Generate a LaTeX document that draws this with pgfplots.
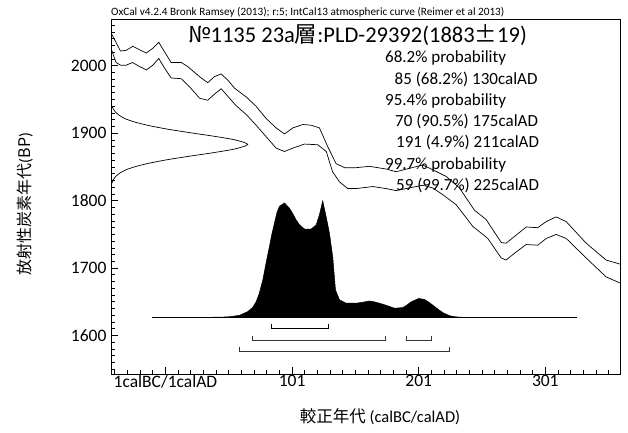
\documentclass[border=0pt]{standalone}
\usepackage{pgfplots}
\pgfplotsset{compat=1.18}
\usepackage{fontspec}
\setmainfont{Carlito}
\newfontfamily\cjk{Noto Sans CJK JP}
\begin{document}
\begin{tikzpicture}[x=1pt,y=1pt]
\useasboundingbox (0,0) rectangle (628,432);
\begin{axis}[
  at={(111pt,58pt)}, anchor=south west,
  scale only axis, width=509pt, height=354pt,
  xmin=-42, xmax=360, ymin=1543, ymax=2068,
  xtick={1,101,201,301},
  xticklabels={1calBC/1calAD,101,201,301},
  ytick={1600,1700,1800,1900,2000},
  minor xtick={-39,-29,...,359},
  minor ytick={1550,1560,...,2060},
  tick align=inside,
  xtick pos=lower, ytick pos=left,
  major tick length=7pt, minor tick length=4pt,
  tick style={black, line width=0.8pt},
  axis line style={line width=1pt},
  /pgf/number format/assume math mode=true,
  /pgf/number format/1000 sep={},
  ticklabel style={font=\fontsize{17.5}{18}\selectfont},
  xticklabel style={yshift=2pt},
  yticklabel style={xshift=-1pt},
]
% calibration curve (upper)
\addplot[black, line width=0.7pt] coordinates {
(-42,2049) (-34.5,2022) (-30,2023) (-24.8,2029) (-19.5,2024) (-14.2,2019) (-9,2026) (-4.3,2035) (0.2,2021) (5.5,2005) (13.4,2005) (18.6,1999) (27.9,1984) (34.4,1975) (39.7,1984) (45,1988) (50.2,1979) (55.5,1967) (64.7,1954) (72.6,1940) (80.5,1922) (88.4,1908) (95,1899) (101.6,1908) (109.5,1913) (116,1912) (122.6,1908) (129.2,1880) (135.8,1855) (142.4,1849) (151.6,1849) (162,1851) (175.3,1847) (183.2,1843) (193.7,1848) (204.2,1853) (210.9,1847) (222.7,1836) (233.2,1819) (245,1786) (254.3,1772) (266.2,1738) (270,1737) (278,1749) (285.9,1761) (295,1760) (301.7,1769) (309.6,1776) (317.5,1769) (333.3,1737) (349,1712) (360,1706)
};
% calibration curve (lower)
\addplot[black, line width=0.7pt] coordinates {
(-42,2026) (-38,2005) (-34.5,2001) (-30,2001) (-25,2005) (-19.5,1999) (-14,1994) (-9,2001) (-4.3,2011) (0.2,1997) (5.5,1982) (13.4,1981) (20,1969) (28,1952) (34.4,1949) (39.7,1958) (45,1966) (50.2,1955) (56.8,1941) (64.7,1928) (72.6,1912) (80.5,1895) (88.4,1878) (95,1873) (101.6,1878) (110.8,1884) (121.3,1883) (128,1873) (133,1843) (138.4,1828) (145,1818) (151.6,1818) (164.8,1821) (175.3,1818) (183.2,1815) (193.7,1819) (204.2,1823) (212,1819) (220,1809) (230.6,1794) (243.7,1762) (255.6,1744) (266.2,1715) (270,1712) (278,1724) (285.9,1735) (295,1734) (301.7,1744) (309.6,1750) (317.5,1744) (333.3,1715) (349,1687) (360,1678)
};
% radiocarbon date distribution (y axis)
\addplot[black, line width=0.7pt, smooth, tension=0.4] coordinates {
(-42,1943) (-41.3,1940) (-40.2,1936) (-38.3,1931) (-35,1926) (-30,1921) (-22,1916) (-11,1911) (3,1906) (20,1901) (38,1896) (54,1891) (63,1886.5) (66,1883.5) (63,1880.5) (54,1876) (38,1871) (20,1866) (3,1861) (-11,1856) (-22,1851) (-30,1846) (-35,1841) (-38.3,1836) (-40.2,1831) (-41.3,1826) (-42,1822)
};
% calibrated distribution
\addplot[black, fill=black, line width=0.5pt] coordinates {
(30,1627) (45,1627.3) (52,1628) (59.5,1630) (66,1635.5) (70,1642) (72.6,1650) (75,1662) (77.9,1682.5) (80.5,1708) (83.1,1732) (85,1750) (87.1,1767) (89,1782) (91,1791.7) (95,1796.6) (98.9,1789) (101.5,1781) (104.2,1771.5) (107,1764) (110.8,1758) (116,1758) (120,1764) (122.6,1779) (125.2,1799.7) (127.9,1776.4) (130.5,1752) (133.1,1717) (135.3,1667.6) (138.4,1653) (143.7,1648) (151.6,1648) (157,1649.5) (162.1,1651.3) (166,1650) (170,1648) (176,1644.5) (181.9,1640.5) (188.4,1641.5) (191.5,1645) (195,1650) (201,1655) (205.6,1653.6) (209,1649.5) (212.2,1645) (216,1639.5) (220,1634) (225.3,1629.5) (230,1627.8) (236,1627)
} -- cycle;
\addplot[black, line width=1.6pt] coordinates {(-10,1627) (326,1627)};
% ranges
\addplot[black, line width=0.8pt] coordinates {(85,1617) (85,1610) (130,1610) (130,1617)};
\addplot[black!80, line width=0.7pt] coordinates {(70,1600) (70,1592.5) (175,1592.5) (175,1600)};
\addplot[black!80, line width=0.7pt] coordinates {(191,1600) (191,1592.5) (211,1592.5) (211,1600)};
\addplot[black!80, line width=0.7pt] coordinates {(59,1583.5) (59,1576) (225,1576) (225,1583.5)};
\end{axis}
\node[anchor=base west, inner sep=0, font=\fontsize{11.2}{12}\selectfont] at (111,416) {OxCal v4.2.4 Bronk Ramsey (2013); r:5; IntCal13 atmospheric curve (Reimer et al 2013)};
\node[anchor=base west, inner sep=0, font=\fontsize{22.5}{24}\selectfont] at (188,389.3) {{\cjk №}1135 23a{\cjk 層}:PLD-29392(1883{\cjk ±}19)};
\begin{scope}[every node/.style={anchor=base west, inner sep=0, font=\fontsize{17}{18}\selectfont}]
\node at (385,369) {68.2\% probability};
\node at (394.5,347.8) {85 (68.2\%) 130calAD};
\node at (385,326.6) {95.4\% probability};
\node at (395,305.4) {70 (90.5\%) 175calAD};
\node at (396,284.2) {191 (4.9\%) 211calAD};
\node at (385,263) {99.7\% probability};
\node at (396,241.8) {59 (99.7\%) 225calAD};
\end{scope}
\node[rotate=90, inner sep=0, font=\fontsize{16}{17}\selectfont] at (25,228) {{\cjk 放射性炭素年代}({\cjk BP})};
\node[anchor=base, inner sep=0, font=\fontsize{16.5}{17}\selectfont] at (380,10) {{\cjk 較正年代} (calBC/calAD)};
\end{tikzpicture}
\end{document}
